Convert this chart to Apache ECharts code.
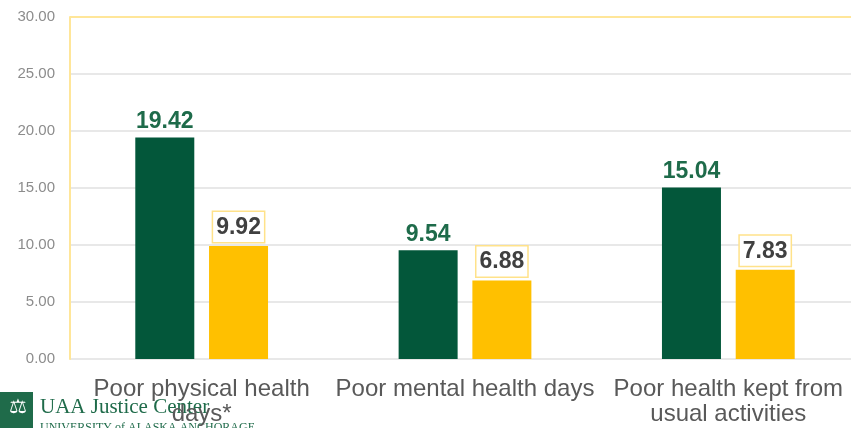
<!DOCTYPE html>
<html>
<head>
<meta charset="utf-8">
<script src="https://cdn.jsdelivr.net/npm/echarts@6/dist/echarts.min.js"></script>
<style>
  html, body { margin: 0; padding: 0; background: #fff; overflow: hidden; }
  #chart { width: 860px; height: 428px; }
</style>
</head>
<body>
<div id="chart"></div>
<script>
const categories = ['Poor physical health\ndays*', 'Poor mental health days', 'Poor health kept from\nusual activities'];
const greenValues = [19.42, 9.54, 15.04];
const yellowValues = [9.92, 6.88, 7.83];
const yTicks = { min: 0, max: 30, interval: 5 };

const chart = echarts.init(document.getElementById('chart'));
const option = {
  animation: false,
  textStyle: { fontFamily: 'Liberation Sans, Arial, sans-serif' },
  // plot runs off the right edge of the picture, as in the original slide
  grid: { left: 70, top: 17, right: 0, bottom: 69, containLabel: false },
  xAxis: {
    type: 'category',
    data: categories,
    axisLine: { show: false },
    axisTick: { show: false },
    axisLabel: { interval: 0, fontSize: 24, color: '#595959', lineHeight: 25, margin: 18 }
  },
  yAxis: {
    type: 'value',
    min: yTicks.min,
    max: yTicks.max,
    interval: yTicks.interval,
    axisLine: { show: true, lineStyle: { color: '#FFE699', width: 2 } },
    axisTick: { show: false },
    axisLabel: {
      fontSize: 15, color: '#8c8c8c', margin: 15,
      formatter: v => v.toFixed(2)
    },
    splitLine: {
      show: true,
      lineStyle: { color: ['#e8e8e8', '#e8e8e8', '#e8e8e8', '#e8e8e8', '#e8e8e8', '#e8e8e8', '#FFE699'], width: 2 }
    }
  },
  series: [
    {
      type: 'bar',
      data: greenValues,
      barWidth: 59,
      barGap: '25%',
      itemStyle: { color: '#03573A' },
      label: {
        show: true, position: 'top', distance: 4,
        fontSize: 23, fontWeight: 'bold', color: '#1E6B4A',
        formatter: p => p.value.toFixed(2)
      }
    },
    {
      type: 'bar',
      data: yellowValues,
      barWidth: 59,
      itemStyle: { color: '#FFC000' },
      label: {
        show: true, position: 'top', distance: 4,
        fontSize: 23, fontWeight: 'bold', color: '#404040',
        backgroundColor: '#fff', borderColor: '#FFE28A', borderWidth: 1.5,
        padding: [4, 3, 3, 3],
        formatter: p => p.value.toFixed(2)
      }
    }
  ],
  graphic: [
    { type: 'rect', left: 0, top: 392, z: -1, shape: { width: 33, height: 36 }, style: { fill: '#1F6B4A' } },
    { type: 'text', left: 9, top: 398, z: -1, style: { text: '⚖', fill: '#ffffff', font: '20px DejaVu Sans' } },
    { type: 'text', left: 40, top: 397, z: -1, style: { text: 'UAA Justice Center', fill: '#1F6B4A', font: '21px Liberation Serif' } },
    { type: 'text', left: 40, top: 422, z: -1, style: { text: 'UNIVERSITY of ALASKA ANCHORAGE', fill: '#1F6B4A', font: '12px Liberation Serif' } }
  ]
};
chart.setOption(option);
</script>
</body>
</html>
